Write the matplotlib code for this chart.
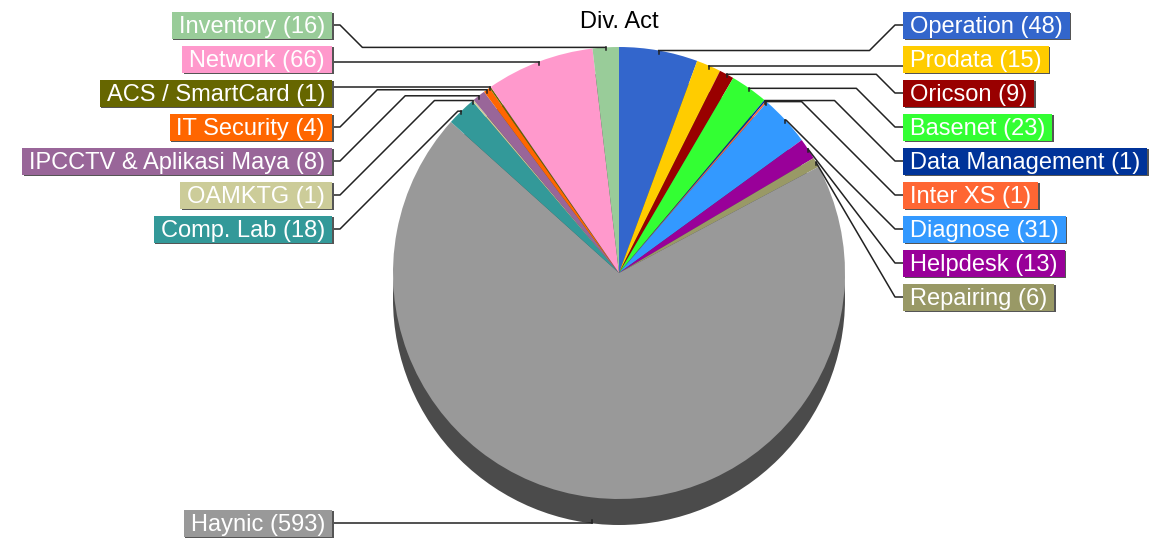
import numpy as np
import matplotlib
matplotlib.use('Agg')
import matplotlib.pyplot as plt
from matplotlib.patches import Circle, Rectangle

plt.rcParams['font.family'] = ['Liberation Sans', 'DejaVu Sans']

title = 'Div. Act'
names = ['Operation', 'Prodata', 'Oricson', 'Basenet', 'Data Management', 'Inter XS',
         'Diagnose', 'Helpdesk', 'Repairing', 'Haynic', 'Comp. Lab', 'OAMKTG',
         'IPCCTV & Aplikasi Maya', 'IT Security', 'ACS / SmartCard', 'Network', 'Inventory']
counts = [48, 15, 9, 23, 1, 1, 31, 13, 6, 593, 18, 1, 8, 4, 1, 66, 16]
colors = ['#3366CC', '#FFCC00', '#990000', '#33FF33', '#003399', '#FF6633',
          '#3399FF', '#990099', '#999966', '#999999', '#339999', '#CCCC99',
          '#996699', '#FF6600', '#666600', '#FF99CC', '#99CC99']

W, H = 1152, 538
cx, cy, r, depth = 619, H - 273, 226, 26

fig = plt.figure(figsize=(W / 100, H / 100), dpi=100)
ax = fig.add_axes([0, 0, 1, 1])

# 3d side of the pie (only the lower crescent shows)
ax.add_patch(Circle((cx, cy - depth), r, color='#4b4b4b', lw=0, zorder=1))
wedges, _ = ax.pie(counts, colors=colors, startangle=90, counterclock=False,
                   center=(cx, cy), radius=r, wedgeprops=dict(linewidth=0))
for w in wedges:
    w.set_zorder(2)

ax.set_xlim(0, W)
ax.set_ylim(0, H)
ax.set_aspect('auto')
ax.axis('off')

ax.text(cx, H - 22, title, ha='center', va='center', fontsize=17, color='black')

# anchor points on the pie edge, angles clockwise from top
total = sum(counts)
mids = (np.cumsum(counts) - np.array(counts) / 2) / total * 2 * np.pi
left, right = [], []
for i, a in enumerate(mids):
    x = cx + r * np.sin(a)
    y = cy + r * np.cos(a)
    if np.cos(a) < 0:
        y -= depth
    (left if x < cx else right).append((i, x, y))
left.sort(key=lambda p: -p[2])
right.sort(key=lambda p: -p[2])

stub = 8
fig.canvas.draw()
renderer = fig.canvas.get_renderer()

for side, items, bx in [(-1, left, 332), (1, right, 903)]:
    for k, (i, x0, y0) in enumerate(items):
        by = H - 25 - 34 * k
        if y0 < by - 100:
            by = y0
        dy = by - y0
        if abs(dy) < 13:
            xs, ys = [x0, bx], [y0, y0]
            ty = y0
        else:
            dx = bx - side * (stub + abs(dy))
            if side * (dx - x0) < 0:
                xs, ys = [x0, bx - side * stub, bx], [y0, by, by]
            else:
                xs, ys = [x0, dx, bx - side * stub, bx], [y0, y0, by, by]
            ty = by
        tick = -3 if y0 > cy else 3
        ax.plot([x0, x0], [y0, y0 + tick], color='#222222', lw=1.1, zorder=3)
        ax.plot(xs, ys, color='#222222', lw=1.1, zorder=3)

        label = f'{names[i]} ({counts[i]})'
        tx = bx - 7 if side < 0 else bx + 7
        t = ax.text(tx, by - 8, label, ha='right' if side < 0 else 'left', va='baseline',
                    fontsize=17, color='white', zorder=6)
        bb = t.get_window_extent(renderer)
        rx0, rx1 = bb.x0 - 7, bb.x1 + 7
        ax.add_patch(Rectangle((rx0 + 1.5, by - 13.5 - 1.5), rx1 - rx0, 27,
                               color='#555555', lw=0, zorder=4))
        ax.add_patch(Rectangle((rx0, by - 13.5), rx1 - rx0, 27,
                               color=colors[i], lw=0, zorder=5))

fig.savefig('out.png', dpi=100)
